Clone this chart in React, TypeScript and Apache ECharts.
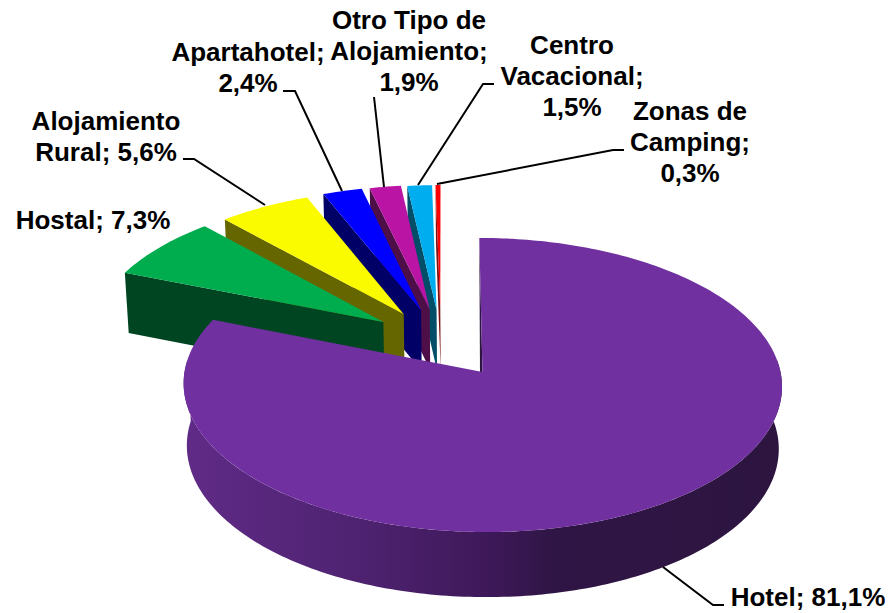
import React, { useEffect, useRef } from "react";
import * as echarts from "echarts";

const CATEGORIES = ["Hotel", "Hostal", "Alojamiento Rural", "Apartahotel", "Otro Tipo de Alojamiento", "Centro Vacacional", "Zonas de Camping"];
const VALUES = [81.1, 7.3, 5.6, 2.4, 1.9, 1.5, 0.3];
const LABELS = [
  "Hotel; 81,1%",
  "Hostal; 7,3%",
  "Alojamiento\nRural; 5,6%",
  "Apartahotel;\n2,4%",
  "Otro Tipo de\nAlojamiento;\n1,9%",
  "Centro\nVacacional;\n1,5%",
  "Zonas de\nCamping;\n0,3%",
];
const TOP_COLORS = ["#7030A0", "#00AD4E", "#FBFB00", "#0000FF", "#B914A3", "#00AEEF", "#FF0000"];
const WALL_COLORS = ["#2D1540", "#004522", "#666600", "#000066", "#4E0F48", "#004E68", "#7A1010"];

// Exploded offset of each slice, on the pie's plane (1 = radius)
const EXPLODE_X = [0, -0.339, -0.269, -0.209, -0.179, -0.155, -0.142];
const EXPLODE_Y = [0, 0.354, 0.41, 0.439, 0.445, 0.444, 0.445];

// Label layout: centre of each text block
const LABEL_X = [808, 93, 106, 248, 409, 572, 690];
const LABEL_Y = [597, 220, 136, 67, 51, 76, 142];
// Leader lines
const LEADERS: number[][][] = [
  [[663, 567], [713, 605], [724, 605]],
  [],
  [[265, 205], [194, 159], [183, 159]],
  [[342, 191], [295, 91], [283, 91]],
  [[384, 187], [374, 97]],
  [[418, 185], [483, 84], [494, 84]],
  [[437, 184], [613, 150], [624, 150]],
];

// Perspective projection of the pie
const CX = 482.5;
const K = 0.0884;
const SHEAR = -3.5;
const TOP = { y0: 372, a: 298, b: 145.9 };
const BOTTOM = { y0: 434, a: 294.8, b: 148.7 };
type Plane = { y0: number; a: number; b: number };

const project = (p: Plane, gx: number, gy: number): number[] => {
  const s = 1 / (1 + K * gy);
  return [CX + (p.a * gx + SHEAR * gy) * s, p.y0 - p.b * gy * s];
};

const TOTAL = VALUES.reduce((a, b) => a + b, 0);

const renderSlice = (_params: any, api: any) => {
  const i = api.value(0);
  const startDeg = api.value(1);
  const endDeg = api.value(2);
  const ex = EXPLODE_X[i];
  const ey = EXPLODE_Y[i];
  const rim = (p: Plane, deg: number) => {
    const r = (deg * Math.PI) / 180;
    return project(p, ex + Math.sin(r), ey + Math.cos(r));
  };
  const arc = (p: Plane, from: number, to: number) => {
    const n = Math.max(2, Math.ceil(Math.abs(to - from)));
    const out: number[][] = [];
    for (let j = 0; j <= n; j++) out.push(rim(p, from + ((to - from) * j) / n));
    return out;
  };
  const apexTop = project(TOP, ex, ey);
  const apexBottom = project(BOTTOM, ex, ey);
  const children: any[] = [];
  if (i === 0) {
    children.push({
      type: "polygon",
      shape: { points: [...arc(TOP, 85, 275), ...arc(BOTTOM, 275, 85)] },
      style: {
        fill: new echarts.graphic.LinearGradient(0, 0, 1, 0, [
          { offset: 0, color: "#602B87" },
          { offset: 0.28, color: "#4F2372" },
          { offset: 0.52, color: "#3D1858" },
          { offset: 0.62, color: "#2F1545" },
          { offset: 1, color: "#2D1540" },
        ]),
      },
    });
    children.push({
      type: "polygon",
      shape: { points: [rim(TOP, 0), apexTop, [apexTop[0] - 2.5, apexTop[1]]] },
      style: { fill: WALL_COLORS[i] },
    });
  } else {
    children.push({
      type: "polygon",
      shape: { points: [rim(TOP, startDeg), apexTop, apexBottom, rim(BOTTOM, startDeg)] },
      style: { fill: WALL_COLORS[i] },
    });
  }
  children.push({
    type: "polygon",
    shape: { points: [apexTop, ...arc(TOP, startDeg, endDeg)] },
    style: { fill: TOP_COLORS[i] },
  });
  return { type: "group", children };
};

const App = () => {
  const ref = useRef<HTMLDivElement>(null);
  useEffect(() => {
    document.body.style.margin = "0";
    const chart = echarts.init(ref.current!, undefined, { renderer: "svg" });
    let cum = 0;
    const rows = VALUES.map((v, i) => {
      const start = (cum / TOTAL) * 360;
      cum += v;
      return [i, start, (cum / TOTAL) * 360, v];
    }).reverse();
    const graphics: any[] = [];
    LEADERS.forEach((pts) => {
      if (pts.length)
        graphics.push({
          type: "polyline",
          shape: { points: pts },
          style: { stroke: "#000", lineWidth: 2, fill: "none" },
          z: 10,
        });
    });
    LABELS.forEach((text, i) => {
      graphics.push({
        type: "text",
        x: LABEL_X[i],
        y: LABEL_Y[i],
        z: 11,
        style: {
          text,
          fill: "#000",
          font: 'bold 26px "Liberation Sans", Arial, sans-serif',
          lineHeight: 31,
          align: "center",
          verticalAlign: "middle",
        },
      });
    });
    chart.setOption({
      animation: false,
      backgroundColor: "#fff",
      series: [
        {
          type: "custom",
          name: "Alojamiento",
          coordinateSystem: "none",
          silent: true,
          clip: false,
          renderItem: renderSlice,
          data: rows.map((r) => ({ value: r, name: CATEGORIES[r[0]] })),
        },
      ],
      graphic: graphics,
    });
    return () => chart.dispose();
  }, []);
  return <div ref={ref} style={{ width: 891, height: 613 }} />;
};

export default App;
